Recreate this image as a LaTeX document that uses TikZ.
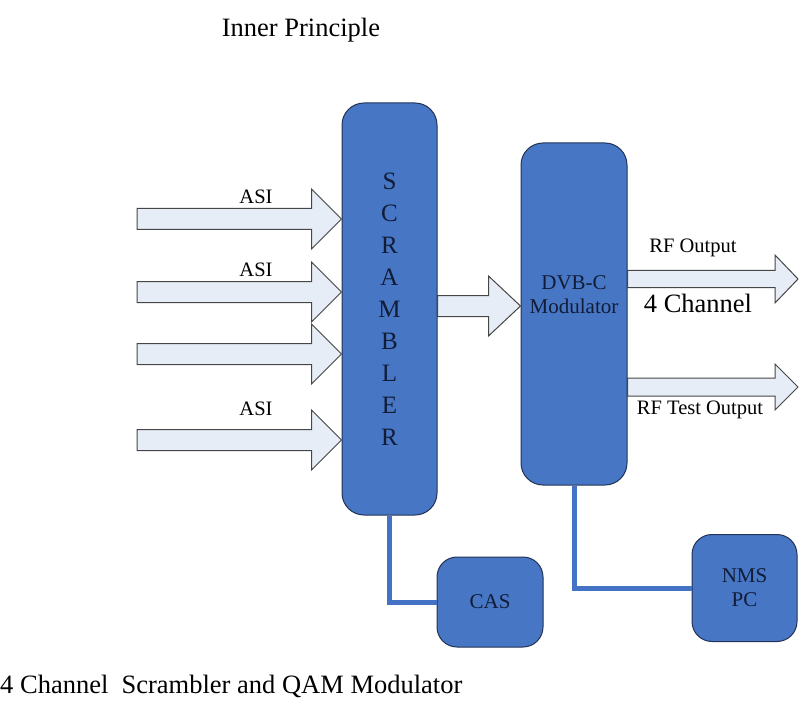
\documentclass[tikz,border=0pt]{standalone}
\usepackage{fontspec}
\setmainfont{Liberation Serif}
\usetikzlibrary{calc}

\definecolor{boxblue}{RGB}{70,118,196}
\definecolor{boxline}{RGB}{35,50,85}
\definecolor{boxtext}{RGB}{18,28,55}
\definecolor{linkblue}{RGB}{68,114,196}
\definecolor{arrowfill}{RGB}{231,237,246}
\definecolor{arrowline}{RGB}{70,70,70}

\tikzset{
  block/.style={draw=boxline, fill=boxblue, line width=1pt, rounded corners=22pt,
    text=boxtext, font=\fontsize{21}{24}\selectfont, align=center, inner sep=0pt},
  fat/.style={draw=arrowline, fill=arrowfill, line width=1pt, line join=miter},
  link/.style={draw=linkblue, line width=5pt},
  lbl/.style={font=\fontsize{20.5}{24}\selectfont, inner sep=0pt},
  big/.style={font=\fontsize{26.5}{30}\selectfont, inner sep=0pt},
}

% block arrow: from, to, shaft half, head half, head length
\newcommand{\fatarrow}[5]{%
  \draw[fat] ($(#1)+(0,-#3)$) -- ($(#2)+(-#5,-#3)$) -- ($(#2)+(-#5,-#4)$) -- (#2)
    -- ($(#2)+(-#5,#4)$) -- ($(#2)+(-#5,#3)$) -- ($(#1)+(0,#3)$) -- cycle;}

\begin{document}
\begin{tikzpicture}[x=1pt, y=-1pt]
    \useasboundingbox (0,0) rectangle (800,711);

    \node (title) at (301,30) [big] {Inner Principle};
    \node (caption) at (0,686) [big, anchor=west] {4 Channel\ \ Scrambler and QAM Modulator};

    \node (scr) at (389.5,309) [block, minimum width=95pt, minimum height=412pt,
        font=\fontsize{25}{32}\selectfont] {S\\C\\R\\A\\M\\B\\L\\E\\R};
    \node (dvb) at (574,314) [block, minimum width=106pt, minimum height=342pt] {DVB-C\\Modulator\\[14pt]};
    \node (cas) at (490,602) [block, minimum width=106pt, minimum height=90pt, rounded corners=20pt] {CAS};
    \node (nms) at (744.5,588) [block, minimum width=105pt, minimum height=107pt, rounded corners=20pt] {NMS\\PC};

    % inputs
    \foreach \y/\n in {219/1, 292/2, 354/3, 440/4}
        {
            \coordinate (asi\n) at (137,\y);
            \fatarrow{asi\n}{scr.west |- asi\n}{10.5}{30}{30}
        }
    \node (l1) at ($(asi1) + (119,-22)$) [lbl] {ASI};
    \node (l2) at ($(asi2) + (119,-22)$) [lbl] {ASI};
    \node (l4) at ($(asi4) + (119,-31)$) [lbl] {ASI};

    % scrambler to modulator
    \coordinate (mid) at (scr.east |- 0,306);
    \fatarrow{mid}{dvb.west |- mid}{10.5}{30}{32}

    % outputs
    \coordinate (rf) at (dvb.east |- 0,279);
    \coordinate (rfend) at (798,279);
    \fatarrow{rf}{rfend}{8.5}{24}{23}
    \coordinate (rft) at (dvb.east |- 0,387);
    \coordinate (rftend) at (798,387);
    \fatarrow{rft}{rftend}{9}{23}{23}

    \node (rfl) at (693,248) [lbl] {RF Output};
    \node (chl) at (698,303) [big] {4 Channel};
    \node (rftl) at (700,410) [lbl] {RF Test Output};

    \draw [link] (scr.south) |- (cas.west);
    \draw [link] (dvb.south) |- (nms.west);

\end{tikzpicture}
\end{document}
